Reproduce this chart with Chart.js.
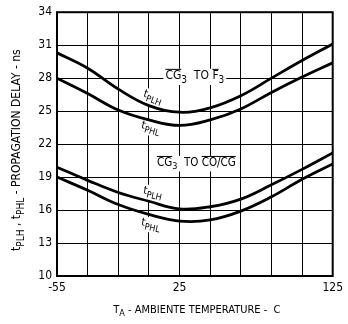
<!DOCTYPE html>
<html>
<head>
<meta charset="utf-8">
<script src="https://cdn.jsdelivr.net/npm/chart.js@4"></script>
<style>
  html, body { margin: 0; padding: 0; background: #fff; }
  canvas { display: block; }
</style>
</head>
<body>
<canvas id="chart" width="348" height="324"></canvas>
<script>
// temperature steps (grid columns) and the labelled ones
const temps = [-55, -35, -15, 5, 25, 45, 65, 85, 105, 125];
const xLabels = [-55, 25, 125];
const yTicks = [10, 13, 16, 19, 22, 25, 28, 31, 34];

// CG3 to F3
const f3Plh = [30.3, 28.9, 27.0, 25.5, 24.9, 25.3, 26.4, 28.0, 29.6, 31.1];
const f3Phl = [28.0, 26.6, 25.1, 24.2, 23.7, 24.2, 25.2, 26.7, 28.1, 29.4];
// CG3 to CO/CG
const coPlh = [19.9, 18.7, 17.6, 16.8, 16.1, 16.3, 17.0, 18.3, 19.7, 21.2];
const coPhl = [19.0, 17.8, 16.5, 15.6, 15.0, 15.1, 15.9, 17.2, 18.8, 20.2];

const FONT = "'DejaVu Sans Condensed', 'Liberation Sans Narrow', 'Noto Sans', sans-serif";

const toPoints = arr => temps.map((t, i) => ({ x: t, y: arr[i] }));
const curve = arr => ({
  data: toPoints(arr),
  borderColor: '#000',
  borderWidth: 2.8,
  pointRadius: 0,
  fill: false,
  tension: 0.4
});

// draw text made of runs: {t, sub, over}
function richWidth(ctx, parts, size) {
  let w = 0;
  parts.forEach(p => {
    ctx.font = (p.sub ? Math.round(size * 0.8) : size) + 'px ' + FONT;
    w += ctx.measureText(p.t).width;
  });
  return w;
}

function drawRich(ctx, parts, x, y, size, bg) {
  const w = richWidth(ctx, parts, size);
  let cx = x - w / 2;
  if (bg) {
    ctx.fillStyle = '#fff';
    ctx.fillRect(cx - 2, y - size * 0.6, w + 4, size * 1.35);
  }
  ctx.fillStyle = '#000';
  ctx.strokeStyle = '#000';
  ctx.textBaseline = 'middle';
  ctx.textAlign = 'left';
  parts.forEach(p => {
    const s = p.sub ? Math.round(size * 0.8) : size;
    ctx.font = s + 'px ' + FONT;
    const dy = p.sub ? size * 0.35 : 0;
    ctx.fillText(p.t, cx, y + dy);
    const pw = ctx.measureText(p.t).width;
    if (p.over) {
      ctx.lineWidth = 1;
      ctx.beginPath();
      ctx.moveTo(cx, y - size * 0.55);
      ctx.lineTo(cx + pw, y - size * 0.55);
      ctx.stroke();
    }
    cx += pw;
  });
}

// annotations in data units
const notes = [
  { x: 7.6, y: 26.3, rot: 20, size: 11, parts: [{ t: 't' }, { t: 'PLH', sub: true }] },
  { x: 6.3, y: 23.5, rot: 15, size: 11, parts: [{ t: 't' }, { t: 'PHL', sub: true }] },
  { x: 35, y: 28.2, rot: 0, size: 12, parts: [{ t: 'CG', over: true }, { t: '3', sub: true }, { t: '  TO ' }, { t: 'F', over: true }, { t: '3', sub: true }] },
  { x: 36, y: 20.3, rot: 0, size: 11.5, parts: [{ t: 'CG', over: true }, { t: '3', sub: true }, { t: '  TO ' }, { t: 'CO/CG', over: true }] },
  { x: 7.6, y: 17.6, rot: 12, size: 11, parts: [{ t: 't' }, { t: 'PLH', sub: true }] },
  { x: 6.3, y: 14.7, rot: 12, size: 11, parts: [{ t: 't' }, { t: 'PHL', sub: true }] }
];

const decor = {
  id: 'decor',
  beforeDatasetsDraw(chart) {
    const ctx = chart.ctx;
    const xs = chart.scales.x, ys = chart.scales.y;
    notes.forEach(n => {
      ctx.save();
      ctx.translate(xs.getPixelForValue(n.x), ys.getPixelForValue(n.y));
      ctx.rotate(n.rot * Math.PI / 180);
      drawRich(ctx, n.parts, 0, 0, n.size, true);
      ctx.restore();
    });
  },
  afterDraw(chart) {
    const ctx = chart.ctx;
    const a = chart.chartArea;
    ctx.save();
    ctx.strokeStyle = '#000';
    ctx.lineWidth = 2;
    ctx.strokeRect(a.left, a.top, a.right - a.left, a.bottom - a.top);

    // axis titles
    drawRich(ctx, [{ t: 'T' }, { t: 'A', sub: true }, { t: ' - AMBIENTE TEMPERATURE -  C' }],
      (a.left + a.right) / 2 + 2, 310, 11, false);
    ctx.translate(17, (a.top + a.bottom) / 2 + 6);
    ctx.rotate(-Math.PI / 2);
    drawRich(ctx, [{ t: 't' }, { t: 'PLH', sub: true }, { t: ' , t' }, { t: 'PHL', sub: true }, { t: ' - PROPAGATION DELAY - ns' }],
      0, 0, 12, false);
    ctx.restore();
  }
};

new Chart(document.getElementById('chart'), {
  type: 'line',
  data: {
    datasets: [curve(f3Plh), curve(f3Phl), curve(coPlh), curve(coPhl)]
  },
  options: {
    responsive: false,
    devicePixelRatio: 1,
    animation: false,
    layout: { padding: { top: 10, right: 15, left: 0, bottom: 0 } },
    plugins: { legend: { display: false }, tooltip: { enabled: false } },
    scales: {
      x: {
        type: 'linear',
        min: -55,
        max: 125,
        afterBuildTicks: s => { s.ticks = temps.map(v => ({ value: v })); },
        afterFit: s => { s.height = 48; },
        ticks: {
          autoSkip: false,
          maxRotation: 0,
          padding: 5,
          color: '#000',
          font: { family: FONT, size: 12 },
          callback: v => xLabels.includes(v) ? String(v) : ''
        },
        grid: { color: '#000', lineWidth: 1, drawTicks: false },
        border: { display: false }
      },
      y: {
        min: 10,
        max: 34,
        afterBuildTicks: s => { s.ticks = yTicks.map(v => ({ value: v })); },
        afterFit: s => { s.width = 57; },
        ticks: {
          padding: 5,
          color: '#000',
          font: { family: FONT, size: 12 }
        },
        grid: { color: '#000', lineWidth: 1, drawTicks: false },
        border: { display: false }
      }
    }
  },
  plugins: [decor]
});
</script>
</body>
</html>
